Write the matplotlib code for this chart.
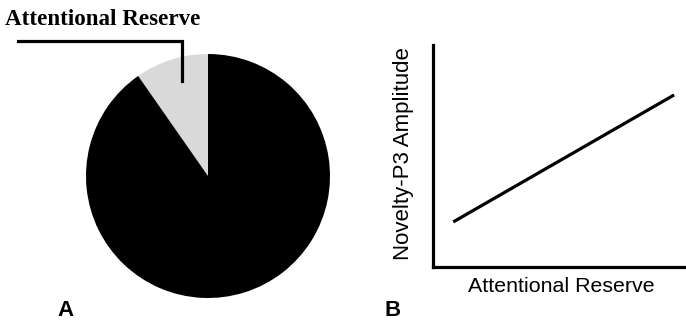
import matplotlib
matplotlib.use('Agg')
import matplotlib.pyplot as plt
import numpy as np

# panel A: share of attention
pie_labels = ['Attentional Reserve', 'Occupied']
pie_values = [9.7, 90.3]
pie_colors = ['#d9d9d9', '#000000']

# panel B: schematic relation
reserve = [0.08, 0.953]
amplitude = [0.203, 0.775]

plt.rcParams['font.family'] = ['Liberation Sans', 'DejaVu Sans']

W, H = 686, 321
fig = plt.figure(figsize=(W / 100, H / 100), dpi=100)

# pie panel, placed in pixel box
ax1 = fig.add_axes([86 / W, (H - 298) / H, 244 / W, 244 / H])
ax1.pie(pie_values, colors=pie_colors, startangle=90, counterclock=True,
        radius=1, wedgeprops=dict(linewidth=0))
ax1.set_xlim(-1, 1)
ax1.set_ylim(-1, 1)
ax1.set_aspect('auto')
ax1.axis('off')

# callout line to the reserve slice
cx, cy, r = 208, 176, 122
px = [(18 - cx) / r, (182 - cx) / r, (182 - cx) / r]
py = [(cy - 41) / r, (cy - 41) / r, (cy - 81) / r]
ax1.plot(px, py, color='black', lw=2.3, clip_on=False, solid_joinstyle='miter')
fig.text(5 / W, 1 - 25 / H, pie_labels[0], family='Liberation Serif',
         fontweight='bold', fontsize=16.6, va='baseline', ha='left')

# line panel
ax2 = fig.add_axes([433 / W, (H - 267) / H, (W - 433) / W, (267 - 45) / H])
ax2.plot(reserve, amplitude, color='black', lw=2.3, solid_capstyle='butt')
ax2.set_xlim(0, 1)
ax2.set_ylim(0, 1)
ax2.set_xticks([])
ax2.set_yticks([])
for s in ['top', 'right']:
    ax2.spines[s].set_visible(False)
for s in ['left', 'bottom']:
    ax2.spines[s].set_linewidth(2.3)

fig.text(404 / W, 1 - 154 / H, 'Novelty-P3 Amplitude', rotation=90,
         ha='center', va='center', fontsize=16)
fig.text(561 / W, 1 - 287 / H, 'Attentional Reserve', ha='center',
         va='center', fontsize=15.4)

fig.text(65 / W, 1 - 316 / H, 'A', fontweight='bold', fontsize=16,
         ha='center', va='baseline')
fig.text(393 / W, 1 - 316 / H, 'B', fontweight='bold', fontsize=16,
         ha='center', va='baseline')

fig.savefig('out.png', dpi=100)
